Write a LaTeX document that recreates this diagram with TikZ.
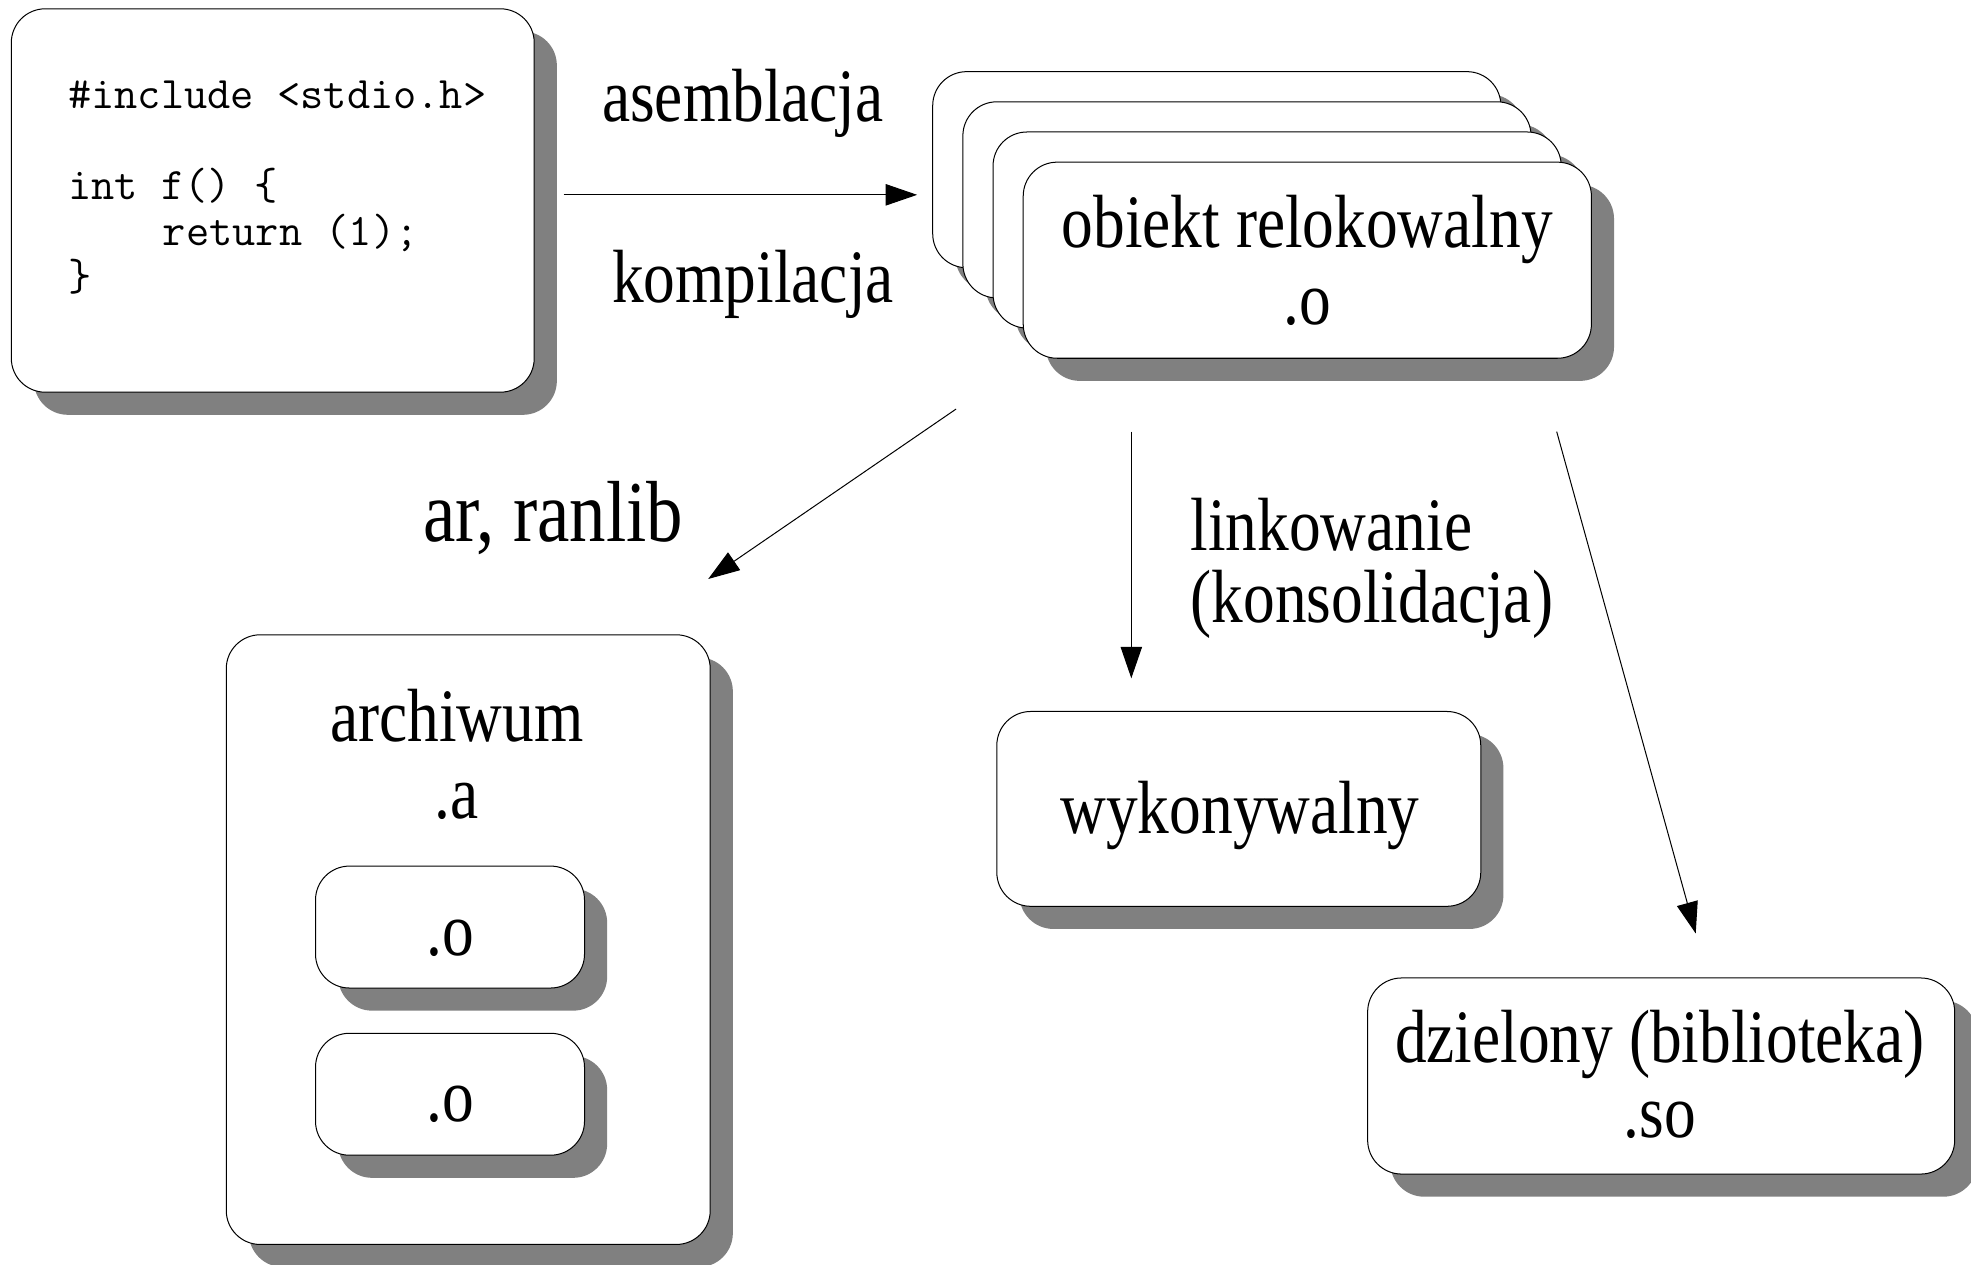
\documentclass[tikz,border=0pt]{standalone}
\usepackage{fontspec}
\usetikzlibrary{shadows,arrows.meta}
\newfontfamily\serifnarrow{Liberation Serif}[FakeStretch=0.84]
\definecolor{shadegray}{HTML}{808080}
\newcommand{\lblfont}{\serifnarrow\fontsize{60pt}{61pt}\selectfont}
\newcommand{\arfont}{\serifnarrow\fontsize{69pt}{70pt}\selectfont}
\newcommand{\codesize}{\ttfamily\fontsize{35.9pt}{36pt}\selectfont}

\tikzset{
  shadowbox/.style={draw=black, line width=0.8pt, fill=white, rounded corners=27pt,
    inner sep=0pt,
    drop shadow={shadow xshift=18pt, shadow yshift=-18pt, fill=shadegray, opacity=1}},
  lbl/.style={font=\lblfont, anchor=base, inner sep=0pt},
  codetxt/.style={font=\codesize, anchor=base west, inner sep=0pt},
  arr/.style={line width=0.8pt, -{Triangle[length=25pt,width=17pt]}}
}

\begin{document}
\begin{tikzpicture}[x=1pt,y=-1pt]
\useasboundingbox (0,0) rectangle (1568,1006);
\fill[white] (0,0) rectangle (1568,1006);

% source file box
\node[shadowbox, minimum width=416pt, minimum height=305pt] (code) at (217,159.5) {};
\node[codetxt] (code1) at (54,86)    {\#include <stdio.h>};
\node[codetxt] (code2) at (54,159)   {int f() \{};
\node[codetxt] (code3) at (129.4,195) {return (1);};
\node[codetxt] (code4) at (54,231)   {\}};

% stack of relocatable objects, back to front
\node[shadowbox, minimum width=452pt, minimum height=156pt] (s1) at (968,135) {};
\node[shadowbox, minimum width=452pt, minimum height=156pt] (s2) at (992,159) {};
\node[shadowbox, minimum width=452pt, minimum height=156pt] (s3) at (1016,183) {};
\node[shadowbox, minimum width=452pt, minimum height=156pt] (s4) at (1040,207) {};
\node[lbl] (s4a) at (1040,197) {obiekt relokowalny};
\node[lbl] (s4b) at (1040,258) {.o};

% static archive
\node[shadowbox, minimum width=385pt, minimum height=485pt] (arch) at (372.5,747.5) {};
\node[lbl] (archa) at (363.5,590) {archiwum};
\node[lbl] (archb) at (363.5,651) {.a};
\node[shadowbox, minimum width=214pt, minimum height=97pt] (o1) at (358,737.5) {};
\node[lbl] (o1t) at (358,760) {.o};
\node[shadowbox, minimum width=214pt, minimum height=97pt] (o2) at (358,870.5) {};
\node[lbl] (o2t) at (358,892) {.o};

% executable
\node[shadowbox, minimum width=385pt, minimum height=155pt] (wyk) at (985.5,643.5) {};
\node[lbl] (wykt) at (986.5,663) {wykonywalny};

% shared library
\node[shadowbox, minimum width=467pt, minimum height=156pt] (dziel) at (1321.5,856) {};
\node[lbl] (dziela) at (1320.5,845) {dzielony (biblioteka)};
\node[lbl] (dzielb) at (1320.5,905) {.so};

% connectors
\draw[arr] ([shift={(23,-4.5)}]code.east) -- ([shift={(-12,20)}]s1.west);
\draw[arr] ([shift={(-53,40)}]s4.south west) -- ([shift={(-2,-44)}]arch.north east);
\draw[arr] ([shift={(-140,58)}]s4.south) -- ([shift={(-85.5,-26)}]wyk.north);
\draw[arr] ([shift={(-28,58)}]s4.south east) -- ([shift={(27.5,-35)}]dziel.north);

% connector labels
\node[lbl] (lasm) at (591,97) {asemblacja};
\node[lbl] (lkom) at (599,241) {kompilacja};
\node[lbl, font=\arfont] (lar) at (440,431) {ar, ranlib};
\node[lbl, anchor=base west] (llink1) at (947,438) {linkowanie};
\node[lbl, anchor=base west] (llink2) at (947,495) {(konsolidacja)};
\end{tikzpicture}
\end{document}
